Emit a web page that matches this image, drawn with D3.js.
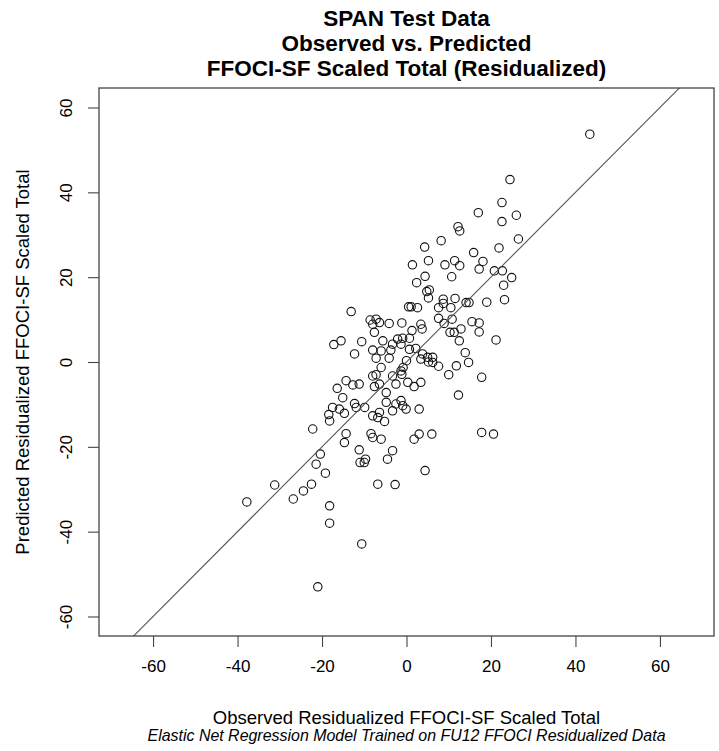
<!DOCTYPE html>
<html>
<head>
<meta charset="utf-8">
<script src="https://cdn.jsdelivr.net/npm/d3@7"></script>
<style>
    body { margin: 0; background: #fff; }
    text { font-family: "Liberation Sans", Arial, sans-serif; fill: #000; }
</style>
</head>
<body>
<div id="chart"></div>
<script>
// observed (x) and predicted (y) residualized scores
const observed = [
    43.4, 24.5, 22.6, 17.0, 26.0, 22.6, 12.2, 12.6, 8.2, 26.5, 4.3, 15.9, 21.9, 5.2, 1.4, 9.1,
    11.4, 12.6, 18.1, 17.2, 20.8, 22.7, 24.9, 4.4, 2.4, 10.7, 23.0, 4.8, 5.4, 5.2, 8.7, 8.7,
    11.5, 14.1, 14.8, 19.0, 23.2, 0.5, 1.1, 2.6, 7.6, 10.5, 7.6, 10.8, 8.9, 15.5, 17.2, -1.1,
    3.4, 3.7, 1.3, 10.3, 11.3, 12.9, 17.2, 12.5, 21.2, 0.7, -0.9, -1.3, 2.2, 0.7, 13.9, 3.8,
    5.0, 6.2, 3.4, 6.2, 7.6, 5.2, 14.7, 11.8, 0.0, -0.8, -1.3, -1.1, 10.0, 17.8, 0.3, 1.8,
    3.4, 12.3, -1.3, -0.9, -0.1, 3.0, 3.0, 6.0, 17.8, 20.6, 1.8, -13.1, -8.6, -7.2, -8.0, -6.4,
    -4.1, -7.6, -15.5, -17.2, -10.6, -5.6, -3.3, -2.1, -12.3, -8.0, -6.0, -3.7, -7.2, -4.1, -6.0, -8.0,
    -7.2, -3.3, -14.3, -12.7, -11.2, -16.4, -7.6, -6.4, -15.1, -4.8, -2.5, -12.3, -11.9, -9.9, -4.8, -2.5,
    -17.5, -15.9, -14.7, -18.4, -18.2, -8.0, -6.4, -6.8, -5.2, -3.3, -22.2, -14.3, -8.4, -8.0, -6.0, -14.7,
    -20.4, -21.4, -19.2, -11.2, -11.0, -10.0, -9.7, -4.5, -3.3, -31.2, -37.8, -22.5, -24.4, -26.8, -18.2, -18.2,
    -10.6, -21.0, -6.8, -2.7, 4.4
];
const predicted = [
    53.7, 43.0, 37.6, 35.2, 34.6, 33.1, 31.9, 30.9, 28.6, 29.0, 27.1, 25.8, 26.9, 23.9, 22.9, 22.9,
    23.9, 22.7, 23.7, 21.9, 21.5, 21.5, 19.9, 20.2, 18.7, 20.1, 18.1, 16.6, 17.0, 15.1, 14.8, 13.8,
    15.0, 14.0, 14.0, 14.1, 14.7, 13.0, 13.0, 12.8, 12.8, 12.8, 10.3, 10.1, 9.1, 9.5, 9.2, 9.2,
    8.9, 7.8, 7.4, 7.0, 7.0, 7.8, 7.1, 5.0, 5.2, 5.6, 5.6, 4.2, 3.2, 3.0, 2.2, 1.9,
    1.1, 1.1, 0.7, -0.1, -1.0, 0.0, -0.1, -0.9, 0.3, -1.3, -2.1, -2.9, -3.0, -3.6, -4.8, -5.8,
    -4.8, -7.8, -9.1, -10.3, -11.1, -11.1, -17.0, -17.0, -16.6, -17.0, -18.2, 11.9, 9.9, 10.1, 8.9, 9.3,
    9.1, 7.0, 5.0, 4.1, 4.8, 5.0, 4.2, 5.4, 1.9, 2.8, 2.6, 2.8, 0.9, 0.9, -1.3, -3.3,
    -3.0, -3.3, -4.4, -5.4, -5.2, -6.2, -5.8, -5.2, -8.4, -7.2, -5.2, -9.8, -10.7, -10.7, -9.5, -9.9,
    -10.7, -11.1, -12.1, -12.4, -13.9, -12.7, -11.9, -13.1, -14.0, -11.5, -15.8, -16.9, -16.9, -17.8, -18.2, -19.0,
    -21.7, -24.1, -26.2, -20.7, -23.7, -23.7, -22.9, -22.9, -20.9, -29.0, -33.0, -28.8, -30.4, -32.3, -33.9, -38.0,
    -42.9, -53.0, -28.8, -28.9, -25.6
];
const xTicks = [-60, -40, -20, 0, 20, 40, 60];
const yTicks = [-60, -40, -20, 0, 20, 40, 60];
const xDomain = [-72.8, 72.8];
const yDomain = [-64.6, 64.6];
const titleLines = ["SPAN Test Data", "Observed vs. Predicted", "FFOCI-SF Scaled Total (Residualized)"];
const xLabel = "Observed Residualized FFOCI-SF Scaled Total";
const subLabel = "Elastic Net Regression Model Trained on FU12 FFOCI Residualized Data";
const yLabel = "Predicted Residualized FFOCI-SF Scaled Total";

const W = 719, H = 751;
const margin = {top: 88, right: 5, bottom: 115, left: 99};
const width = W - margin.left - margin.right;
const height = H - margin.top - margin.bottom;

const svg = d3.select("#chart").append("svg")
    .attr("width", W)
    .attr("height", H);

const x = d3.scaleLinear().domain(xDomain).range([margin.left, margin.left + width]);
const y = d3.scaleLinear().domain(yDomain).range([margin.top + height, margin.top]);

// points
const pts = d3.zip(observed, predicted);
svg.append("g")
    .selectAll("circle")
    .data(pts)
    .enter()
    .append("circle")
    .attr("cx", d => x(d[0]))
    .attr("cy", d => y(d[1]))
    .attr("r", 4.2)
    .style("fill", "none")
    .style("stroke", "#111")
    .style("stroke-width", 1.1);

// identity line y = x, clipped to the box
svg.append("clipPath").attr("id", "clip")
    .append("rect")
    .attr("x", margin.left).attr("y", margin.top)
    .attr("width", width).attr("height", height);

svg.append("line")
    .attr("clip-path", "url(#clip)")
    .attr("x1", x(-80)).attr("y1", y(-80))
    .attr("x2", x(80)).attr("y2", y(80))
    .style("stroke", "#555")
    .style("stroke-width", 1.1);

// axes
const xAxis = svg.append("g")
    .attr("transform", `translate(0,${margin.top + height})`)
    .call(d3.axisBottom(x).tickValues(xTicks).tickSize(11).tickPadding(13).tickFormat(d3.format("d")));
const yAxis = svg.append("g")
    .attr("transform", `translate(${margin.left},0)`)
    .call(d3.axisLeft(y).tickValues(yTicks).tickSize(11).tickPadding(8).tickFormat(d3.format("d")));

[xAxis, yAxis].forEach(a => {
    a.select(".domain").remove();
    a.selectAll(".tick line").style("stroke", "#444").style("stroke-width", 1.1);
    a.selectAll(".tick text")
        .style("font-family", "Liberation Sans, Arial, sans-serif")
        .style("font-size", "17px")
        .style("fill", "#000")
        .text(d => d < 0 ? "-" + Math.abs(d) : d);
});

// y tick labels are vertical, as in R
yAxis.selectAll(".tick text")
    .attr("x", null).attr("dy", null)
    .attr("text-anchor", "middle")
    .attr("dominant-baseline", "central")
    .attr("transform", "translate(-33,0) rotate(-90)");

// box
svg.append("rect")
    .attr("x", margin.left).attr("y", margin.top)
    .attr("width", width).attr("height", height)
    .style("fill", "none")
    .style("stroke", "#444")
    .style("stroke-width", 1.3);

// title
const cx = margin.left + width / 2;
svg.append("g").selectAll("text")
    .data(titleLines)
    .enter()
    .append("text")
    .attr("x", cx)
    .attr("y", (d, i) => 18 + i * 25)
    .attr("text-anchor", "middle")
    .attr("dominant-baseline", "central")
    .style("font-weight", "bold")
    .style("font-size", "22.5px")
    .text(d => d);

svg.append("text")
    .attr("x", cx).attr("y", 717)
    .attr("text-anchor", "middle")
    .attr("dominant-baseline", "central")
    .style("font-size", "18.5px")
    .text(xLabel);

svg.append("text")
    .attr("x", cx).attr("y", 735.5)
    .attr("text-anchor", "middle")
    .attr("dominant-baseline", "central")
    .attr("textLength", 518)
    .attr("lengthAdjust", "spacingAndGlyphs")
    .style("font-size", "17px")
    .style("font-style", "italic")
    .text(subLabel);

svg.append("text")
    .attr("transform", `translate(22,${margin.top + height / 2}) rotate(-90)`)
    .attr("text-anchor", "middle")
    .attr("dominant-baseline", "central")
    .style("font-size", "18.5px")
    .text(yLabel);
</script>
</body>
</html>
